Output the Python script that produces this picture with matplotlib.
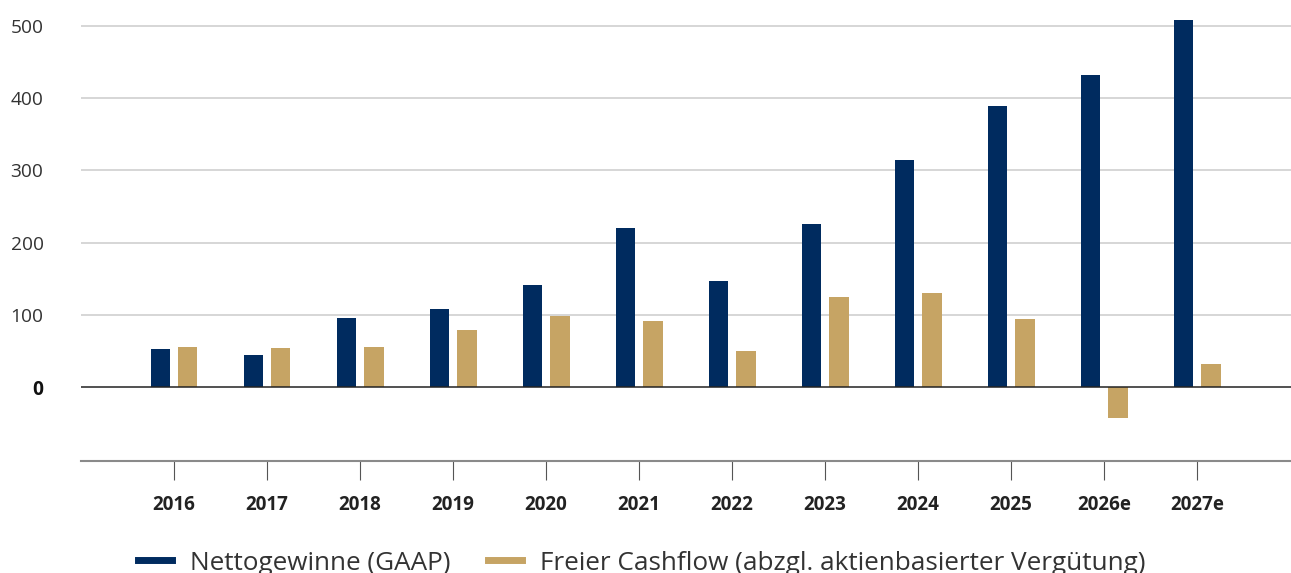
import matplotlib
matplotlib.use("Agg")
import matplotlib.pyplot as plt
from matplotlib.lines import Line2D
import numpy as np

# ---------- data ----------
years = ["2016", "2017", "2018", "2019", "2020", "2021",
         "2022", "2023", "2024", "2025", "2026e", "2027e"]
net_income = [53, 45, 96, 108, 141, 220, 147, 226, 314, 389, 432, 508]
free_cashflow = [56, 54, 56, 79, 99, 92, 50, 125, 130, 94, -42, 32]
y_ticks = [0, 100, 200, 300, 400, 500]
series_labels = ["Nettogewinne (GAAP)",
                 "Freier Cashflow (abzgl. aktienbasierter Vergütung)"]

navy = "#002b5f"
gold = "#c6a464"
# --------------------------

plt.rcParams["font.family"] = ["Open Sans", "DejaVu Sans"]

fig = plt.figure(figsize=(12.91, 5.73), dpi=100)
ax = fig.add_axes([81 / 1291, 112 / 573, 1 - 81 / 1291, 1 - 112 / 573])

x = np.arange(len(years))
w = 0.205
off = 0.15
ax.bar(x - off, net_income, width=w, color=navy, zorder=3)
ax.bar(x + off, free_cashflow, width=w, color=gold, zorder=3)

ax.set_xlim(-1, 12.01)
ax.set_ylim(-101.9, 535.5)

# grid + zero line
for v in y_ticks[1:]:
    ax.axhline(v, color="#cccccc", lw=1.1, zorder=1)
ax.axhline(0, color="#222222", lw=1.1, zorder=4)

for s in ["left", "right", "top"]:
    ax.spines[s].set_visible(False)
ax.spines["bottom"].set_color("#8a8a8a")
ax.spines["bottom"].set_linewidth(1.5)

ax.set_yticks(y_ticks)
ax.set_yticklabels([str(v) for v in y_ticks], fontsize=13.8, color="#333333")
ax.get_yticklabels()[0].set_fontweight("bold")
ax.get_yticklabels()[0].set_color("#111111")
ax.tick_params(axis="y", length=0, pad=27)

ax.set_xticks(x)
ax.set_xticklabels(years, fontsize=13.5, fontweight="bold", color="#222222")
ax.tick_params(axis="x", length=13.5, width=0.8, color="#555555",
               direction="out", pad=11)

handles = [Line2D([0], [0], color=navy, lw=5),
           Line2D([0], [0], color=gold, lw=5)]
fig.legend(handles, series_labels, loc="center left",
           bbox_to_anchor=(138 / 1291, 1 - 563 / 573), ncol=2, frameon=False,
           fontsize=18.8, handlelength=1.3, handletextpad=0.68,
           columnspacing=1.45, borderpad=0, borderaxespad=0,
           labelcolor="#333333")

fig.savefig("out.png", dpi=100)
